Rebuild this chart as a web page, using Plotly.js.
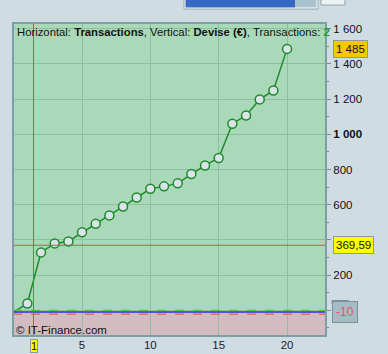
<!DOCTYPE html>
<html>
<head>
<meta charset="utf-8">
<script src="https://cdn.plot.ly/plotly-3.0.1.min.js"></script>
<style>
html,body{margin:0;padding:0;background:#cfdde3;}
#chart{width:388px;height:354px;}
</style>
</head>
<body>
<div id="chart"></div>
<script>
// ---- data ----
const transactions = [0,1,2,3,4,5,6,7,8,9,10,11,12,13,14,15,16,17,18,19,20];
const devise = [-10,39,329,380,391,443,491,539,590,641,690,704,721,774,823,865,1060,1107,1198,1249,1485];
const yTickVals = [0,200,400,600,800,1000,1200,1400,1600];
const yTickText = ["","200","","600","800","<b>1 000</b>","1 200","1 400","1 600"];
const yMinorVals = [-100,100,300,500,700,900,1100,1300,1500];
const xTickVals = [5,10,15,20];
const xTickText = ["5","10","15","20"];
const cursorX = 1.45;
const cursorXLabel = "1";
const cursorY = 369.59;
const cursorYLabel = "369,59";
const lastValueLabel = "1 485";
const zeroLevel = 0;
const stopLevel = -10;
const stopLabel = "-10";
const lowerLevel = -22;

const W=388,H=354,ML=13,MR=62,MT=23,MB=18;
const PW=W-ML-MR, PH=H-MT-MB;
const px=(p)=>(p-ML)/PW;
const py=(p)=>(H-MB-p)/PH;

const xr=[-0.05,22.85], yr=[-146,1632];
const font="Liberation Sans, Arial, sans-serif";

const traces=[
 {x:transactions,y:devise,type:'scatter',mode:'lines',line:{color:'#1f8a2c',width:1.5},hoverinfo:'skip',cliponaxis:true},
 {x:transactions.slice(1),y:devise.slice(1),type:'scatter',mode:'markers',
  marker:{symbol:'circle',size:9,color:'#d9e3e8',line:{color:'#1f8a2c',width:1.5}},hoverinfo:'skip'}
];

const shapes=[
 {type:'rect',xref:'paper',yref:'y',x0:0,x1:1,y0:stopLevel,y1:yr[1],fillcolor:'#aad9b9',line:{width:0},layer:'below'},
 {type:'rect',xref:'paper',yref:'y',x0:0,x1:1,y0:yr[0],y1:stopLevel,fillcolor:'#d3bcc0',line:{width:0},layer:'below'},
 {type:'line',xref:'paper',yref:'y',x0:0,x1:1,y0:zeroLevel,y1:zeroLevel,line:{color:'#3fcf3f',width:1.2,dash:'dash'}},
 {type:'line',xref:'paper',yref:'y',x0:0,x1:1,y0:stopLevel,y1:stopLevel,line:{color:'#2c2cf0',width:1.5}},
 {type:'line',xref:'paper',yref:'y',x0:0,x1:1,y0:lowerLevel,y1:lowerLevel,line:{color:'#e06060',width:1.2,dash:'dash'}},
 {type:'line',xref:'x',yref:'paper',x0:cursorX,x1:cursorX,y0:0,y1:1,line:{color:'#e04848',width:1}},
 {type:'line',xref:'paper',yref:'y',x0:0,x1:1,y0:cursorY,y1:cursorY,line:{color:'#e04848',width:1}},
 {type:'rect',xref:'paper',yref:'paper',x0:0,x1:1,y0:0,y1:1,line:{color:'#7c9ea6',width:2}},
 {type:'rect',xref:'paper',yref:'paper',x0:px(184),x1:px(318),y0:py(9),y1:py(-3),fillcolor:'#ffffff',line:{color:'#8fa4ae',width:1}},
 {type:'rect',xref:'paper',yref:'paper',x0:px(185.5),x1:px(295),y0:py(7.5),y1:py(-3),fillcolor:'#3569c4',line:{width:0}},
 {type:'rect',xref:'paper',yref:'paper',x0:px(295),x1:px(316.5),y0:py(7.5),y1:py(-3),fillcolor:'#a9c2cf',line:{width:0}},
 {type:'rect',xref:'paper',yref:'paper',x0:px(321),x1:px(345),y0:py(5),y1:py(-3),fillcolor:'#eef2f4',line:{color:'#8fa4ae',width:1}},
 {type:'rect',xref:'paper',yref:'paper',x0:px(332),x1:px(348.5),y0:py(304),y1:py(300.5),fillcolor:'rgba(0,0,0,0)',line:{color:'#7c909a',width:1}}
];

const annotations=[
 {xref:'paper',yref:'paper',x:px(15),y:py(23.5),xanchor:'left',yanchor:'top',showarrow:false,
  text:"Horizontal: <b>Transactions</b>, Vertical: <b>Devise (€)</b>, Transactions: <b><span style='color:#1f9a2c'>2</span></b>",
  font:{family:font,size:11.3,color:'#111'}},
 {xref:'paper',yref:'paper',x:px(14),y:py(329.5),xanchor:'left',yanchor:'middle',showarrow:false,
  text:"© IT-Finance.com",font:{family:font,size:11.5,color:'#111'}},
 {xref:'paper',yref:'paper',x:px(53),y:py(4),xanchor:'left',yanchor:'bottom',showarrow:false,
  text:"Performance brute :",font:{family:font,size:13,color:'#222'}},
 {xref:'paper',yref:'y',x:px(333),y:devise[devise.length-1],xanchor:'left',yanchor:'middle',showarrow:false,
  text:lastValueLabel,font:{family:font,size:11.5,color:'#111'},bgcolor:'#f7c800',bordercolor:'#8a9aa0',borderwidth:1,borderpad:2},
 {xref:'paper',yref:'y',x:px(333),y:cursorY,xanchor:'left',yanchor:'middle',showarrow:false,
  text:cursorYLabel,font:{family:font,size:11.5,color:'#111'},bgcolor:'#ffff00',bordercolor:'#8a9aa0',borderwidth:1,borderpad:2},
 {xref:'paper',yref:'y',x:px(332),y:stopLevel,xanchor:'left',yanchor:'middle',showarrow:false,
  text:stopLabel,font:{family:font,size:12,color:'#e05a5a'},bgcolor:'#a5bcc7',bordercolor:'#7c909a',borderwidth:1,borderpad:3},
 {xref:'x',yref:'paper',x:cursorX,y:py(339),xanchor:'center',yanchor:'top',showarrow:false,
  text:cursorXLabel,font:{family:font,size:11,color:'#111'},bgcolor:'#ffff00',bordercolor:'#8a9aa0',borderwidth:1,borderpad:0}
];

const layout={
 width:W,height:H,margin:{l:ML,r:MR,t:MT,b:MB,pad:0},
 paper_bgcolor:'#cfdde3',plot_bgcolor:'rgba(0,0,0,0)',showlegend:false,
 font:{family:font,size:11,color:'#111'},
 xaxis:{range:xr,tickmode:'array',tickvals:xTickVals,ticktext:xTickText,showgrid:true,gridcolor:'#8fbf9e',gridwidth:1,
   zeroline:false,showline:false,ticks:'',tickfont:{family:font,size:11.5,color:'#1a1a2a'},fixedrange:true},
 yaxis:{range:yr,side:'right',tickmode:'array',tickvals:yTickVals,ticktext:yTickText,showgrid:true,gridcolor:'#8fbf9e',gridwidth:1,
   zeroline:false,showline:false,ticks:'outside',ticklen:4,tickcolor:'#7a8a90',tickwidth:1,
   minor:{tickmode:'array',tickvals:yMinorVals,ticks:'outside',ticklen:2,tickcolor:'#7a8a90',showgrid:false},
   tickfont:{family:font,size:11.5,color:'#111'},fixedrange:true},
 shapes:shapes,annotations:annotations
};
Plotly.newPlot('chart',traces,layout,{staticPlot:true,displayModeBar:false});
</script>
</body>
</html>
